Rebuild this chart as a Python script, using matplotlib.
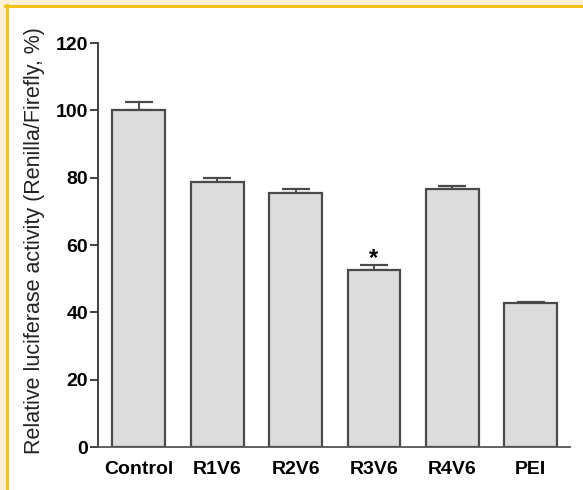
import matplotlib
matplotlib.use('Agg')
import matplotlib.pyplot as plt
from matplotlib.patches import Rectangle
from matplotlib.lines import Line2D

groups = ['Control', 'R1V6', 'R2V6', 'R3V6', 'R4V6', 'PEI']
activity = [100.0, 78.7, 75.3, 52.7, 76.6, 42.7]
errors = [2.6, 1.2, 1.3, 1.4, 1.0, 0.5]
marked = ['R3V6']

plt.rcParams['font.family'] = ['Liberation Sans', 'DejaVu Sans']

fig = plt.figure(figsize=(5.83, 4.90), dpi=100)

# frame around the panel
fig.patches.append(Rectangle((0, 1 - 5 / 490), 1, 5 / 490, transform=fig.transFigure, color='#fcefd4', zorder=0))
fig.patches.append(Rectangle((0, 0), 5 / 583, 1, transform=fig.transFigure, color='#fcefd4', zorder=0))
fig.lines.append(Line2D([5 / 583, 1], [1 - 6.5 / 490, 1 - 6.5 / 490], transform=fig.transFigure, color='#f4c01e', lw=2.2))
fig.lines.append(Line2D([6.5 / 583, 6.5 / 583], [0, 1 - 5 / 490], transform=fig.transFigure, color='#f4c01e', lw=2.2))

ax = fig.add_axes([98 / 583, 1 - 447 / 490, (570 - 98) / 583, (447 - 43) / 490])
x = list(range(len(groups)))
ax.bar(x, activity, width=0.675, color='#dcdcdc', edgecolor='#4a4a4a', linewidth=1.6, zorder=2)
ax.errorbar(x, activity, yerr=[[0] * len(errors), errors], fmt='none', ecolor='#4a4a4a',
            elinewidth=1.4, capsize=10, capthick=1.6, zorder=1)

for g in marked:
    i = groups.index(g)
    ax.text(i, activity[i] + errors[i] + 2.0, '*', ha='center', va='center', fontsize=17, fontweight='bold')

ax.set_xlim(-0.52, 5.5)
ax.set_ylim(0, 120)
ax.set_yticks([0, 20, 40, 60, 80, 100, 120])
ax.set_xticks(x)
ax.set_xticklabels(groups)
ax.spines['top'].set_visible(False)
ax.spines['right'].set_visible(False)
ax.spines['left'].set_color('#333333')
ax.spines['bottom'].set_color('#555555')
ax.spines['left'].set_linewidth(1.3)
ax.spines['bottom'].set_linewidth(1.3)
ax.tick_params(axis='x', length=0, pad=10, labelsize=14)
ax.tick_params(axis='y', length=6, width=1.3, color='#333333', pad=1, labelsize=14)
for lab in ax.get_xticklabels() + ax.get_yticklabels():
    lab.set_fontweight('bold')
ax.set_ylabel('Relative luciferase activity (Renilla/Firefly, %)', fontsize=15.5, color='#222222')
# label centre sits a little above the axes centre in the reference
ax.yaxis.set_label_coords(-0.113, 0.512)

fig.savefig('out.png', dpi=100)
